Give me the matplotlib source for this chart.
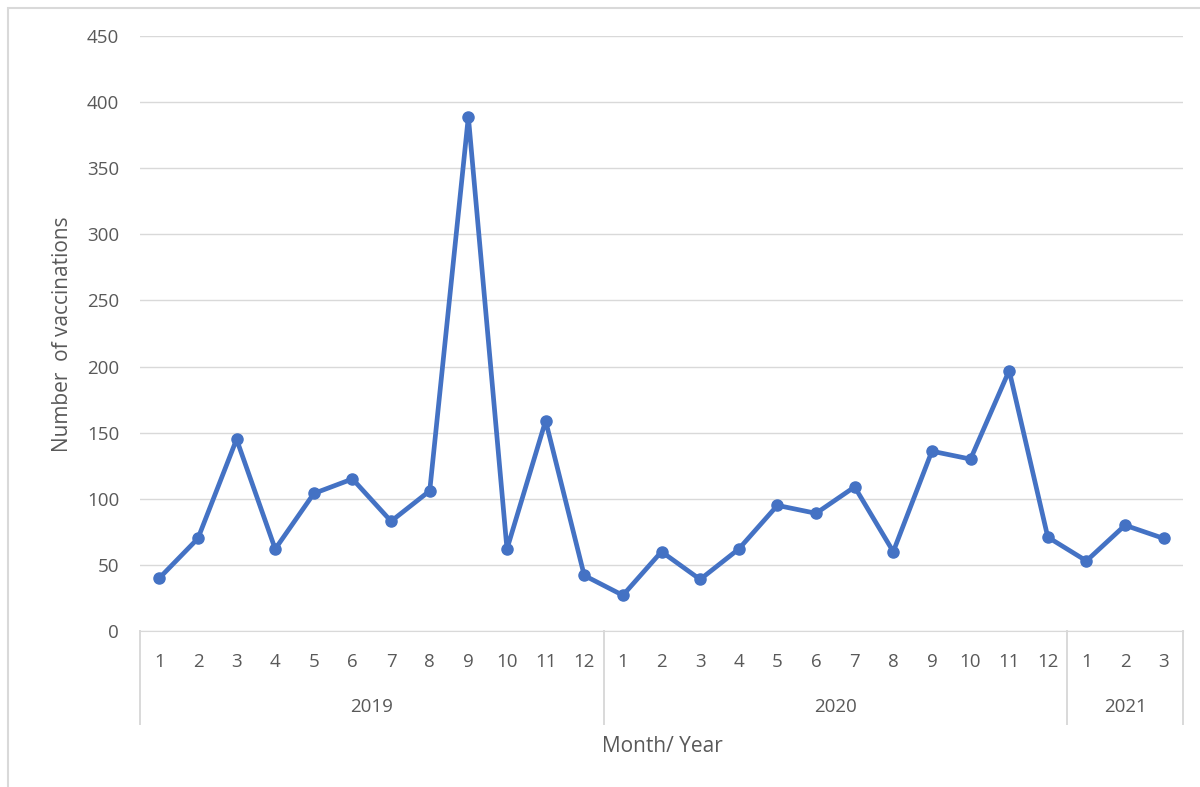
import matplotlib
matplotlib.use('Agg')
import matplotlib.pyplot as plt
from matplotlib.patches import Rectangle

# data
months = [1, 2, 3, 4, 5, 6, 7, 8, 9, 10, 11, 12,
          1, 2, 3, 4, 5, 6, 7, 8, 9, 10, 11, 12,
          1, 2, 3]
years = ["2019", "2020", "2021"]
year_counts = [12, 12, 3]
vaccinations = [40, 70, 145, 62, 104, 115, 83, 106, 389, 62, 159, 42,
                27, 60, 39, 62, 95, 89, 109, 60, 136, 130, 197, 71,
                53, 80, 70]

plt.rcParams['font.family'] = ['Open Sans', 'DejaVu Sans']
TXT = "#595959"
GRID = "#D9D9D9"
TICK_FS = 13.5
TITLE_FS = 15

fig = plt.figure(figsize=(12, 7.87), dpi=100)
W, H = 1200, 787
ax = fig.add_axes([140 / W, 1 - 631 / H, (1183 - 140) / W, (631 - 36) / H])

# chart-area border (only left/top visible in the reference)
fig.patches.append(Rectangle((8 / W, -20 / H), (1230 - 8) / W, (779 + 20) / H,
                             transform=fig.transFigure, fill=False,
                             edgecolor=GRID, linewidth=1.5))

x = list(range(len(vaccinations)))
ax.plot(x, vaccinations, color="#4472C4", linewidth=3.4, marker='o',
        markersize=8, zorder=3)

ax.set_xlim(-0.5, len(x) - 0.5)
ax.set_ylim(0, 450)
ax.set_yticks(range(0, 451, 50))
ax.yaxis.grid(True, color=GRID, linewidth=1)
ax.set_axisbelow(True)
for s in ["top", "right", "left"]:
    ax.spines[s].set_visible(False)
ax.spines["bottom"].set_color(GRID)
ax.tick_params(axis='y', length=0, pad=15, labelsize=TICK_FS, labelcolor=TXT)
ax.set_xticks([])

# multi-level category axis
trans = ax.get_xaxis_transform()
for xi, m in zip(x, months):
    ax.text(xi, -0.052, str(m), transform=trans, ha='center', va='center',
            fontsize=TICK_FS, color=TXT)
start = 0
bounds = [-0.5]
for yr, n in zip(years, year_counts):
    mid = start + (n - 1) / 2
    ax.text(mid, -0.128, yr, transform=trans, ha='center', va='center',
            fontsize=TICK_FS, color=TXT)
    start += n
    bounds.append(start - 0.5)
for b in bounds:
    ax.plot([b, b], [0, -0.156], transform=trans, color=GRID, linewidth=1.4,
            clip_on=False)

fig.text(662 / W, 1 - 746 / H, "Month/ Year", ha='center', va='center',
         fontsize=TITLE_FS, color=TXT)
fig.text(62 / W, 1 - 334 / H, "Number  of vaccinations", ha='center',
         va='center', rotation=90, fontsize=TITLE_FS, color=TXT)

fig.savefig("out.png", dpi=100)
